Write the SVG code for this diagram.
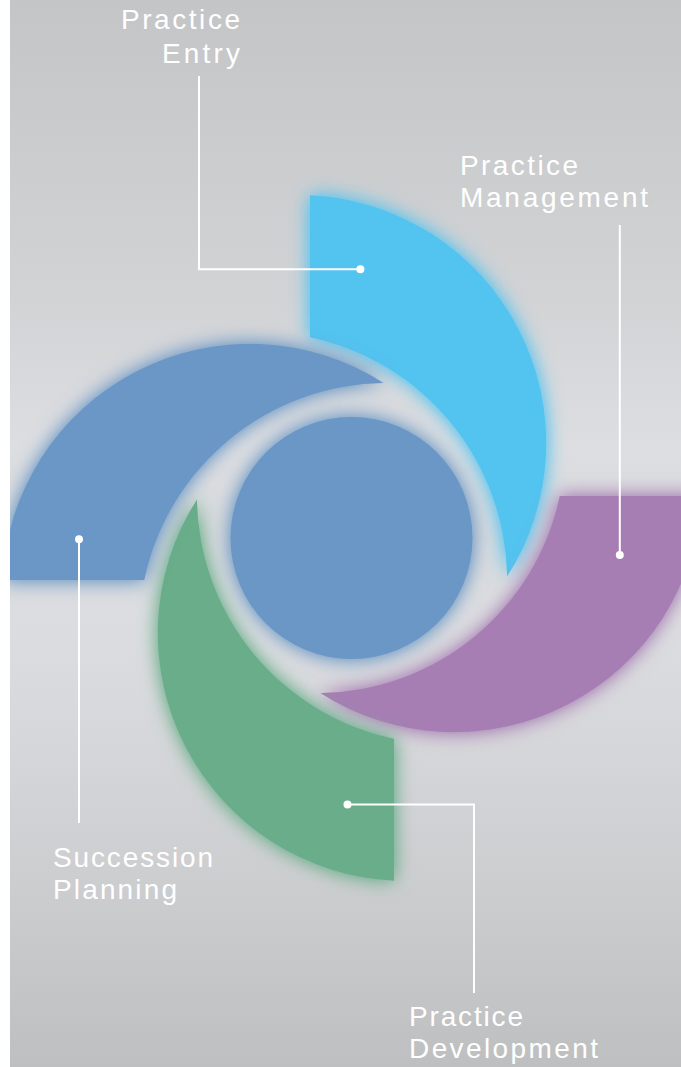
<svg xmlns="http://www.w3.org/2000/svg" width="681" height="1067" viewBox="0 0 681 1067">
  <defs>
    <linearGradient id="bg" x1="0" y1="0" x2="0" y2="1">
      <stop offset="0" stop-color="#c4c5c7"/>
      <stop offset="0.28" stop-color="#d2d3d5"/>
      <stop offset="0.42" stop-color="#dddee1"/>
      <stop offset="0.5" stop-color="#d9dadd"/>
      <stop offset="0.58" stop-color="#dcdde0"/>
      <stop offset="0.66" stop-color="#d8d9dc"/>
      <stop offset="0.82" stop-color="#cdced0"/>
      <stop offset="1" stop-color="#bebfc1"/>
    </linearGradient>
    <filter id="glow" x="-30%" y="-30%" width="160%" height="160%">
      <feGaussianBlur in="SourceGraphic" stdDeviation="10" result="b"/>
      <feComponentTransfer in="b" result="b2">
        <feFuncA type="linear" slope="1.3"/>
      </feComponentTransfer>
      <feMerge>
        <feMergeNode in="b2"/>
        <feMergeNode in="SourceGraphic"/>
      </feMerge>
    </filter>
    <path id="seg" d="M310,195.3 A248,248 0 0,1 507.1,576.6 A248,248 0 0,0 310,337.3 Z"/>
  </defs>
  <style>
    .lbl { font-family: "Liberation Sans", Arial, sans-serif; font-size: 28px; fill: #ffffff; }
    .con { fill: none; stroke: #ffffff; stroke-width: 2; }
    .dot { fill: #ffffff; }
    .g { filter: url(#glow); }
  </style>

  <rect x="0" y="0" width="681" height="1067" fill="url(#bg)"/>

  <g id="node-center">
    <circle class="g" cx="351.5" cy="538" r="121" fill="#6b97c5"/>
  </g>

  <g id="node-practice-entry">
    <use href="#seg" class="g" fill="#53c3ef"/>
    <text class="lbl" x="121" y="29" textLength="119" lengthAdjust="spacing">Practice</text>
    <text class="lbl" x="162" y="63" textLength="78" lengthAdjust="spacing">Entry</text>
  </g>

  <g id="node-practice-management">
    <use href="#seg" class="g" fill="#a67eb3" transform="translate(7,0) rotate(90 352 538)"/>
    <text class="lbl" x="460" y="175" textLength="118" lengthAdjust="spacing">Practice</text>
    <text class="lbl" x="460" y="207" textLength="188" lengthAdjust="spacing">Management</text>
  </g>

  <g id="node-practice-development">
    <use href="#seg" class="g" fill="#69ad8a" transform="rotate(180 352 538)"/>
    <text class="lbl" x="409" y="1026" textLength="114" lengthAdjust="spacing">Practice</text>
    <text class="lbl" x="409" y="1058" textLength="189" lengthAdjust="spacing">Development</text>
  </g>

  <g id="node-succession-planning">
    <use href="#seg" class="g" fill="#6b97c5" transform="translate(-7,0) rotate(270 352 538)"/>
    <text class="lbl" x="53" y="867" textLength="160" lengthAdjust="spacing">Succession</text>
    <text class="lbl" x="53" y="899" textLength="124" lengthAdjust="spacing">Planning</text>
  </g>

  <g id="connectors">
    <path class="con" d="M199,76 V269.3 H360.4"/>
    <circle class="dot" cx="360.4" cy="269.3" r="4"/>
    <path class="con" d="M619.8,225 V555"/>
    <circle class="dot" cx="619.8" cy="555" r="4"/>
    <path class="con" d="M79,539.3 V823"/>
    <circle class="dot" cx="79" cy="539.3" r="4"/>
    <path class="con" d="M347.5,804.5 H474 V993"/>
    <circle class="dot" cx="347.5" cy="804.5" r="4"/>
  </g>

  <rect x="0" y="0" width="10" height="1067" fill="#ffffff"/>
</svg>
